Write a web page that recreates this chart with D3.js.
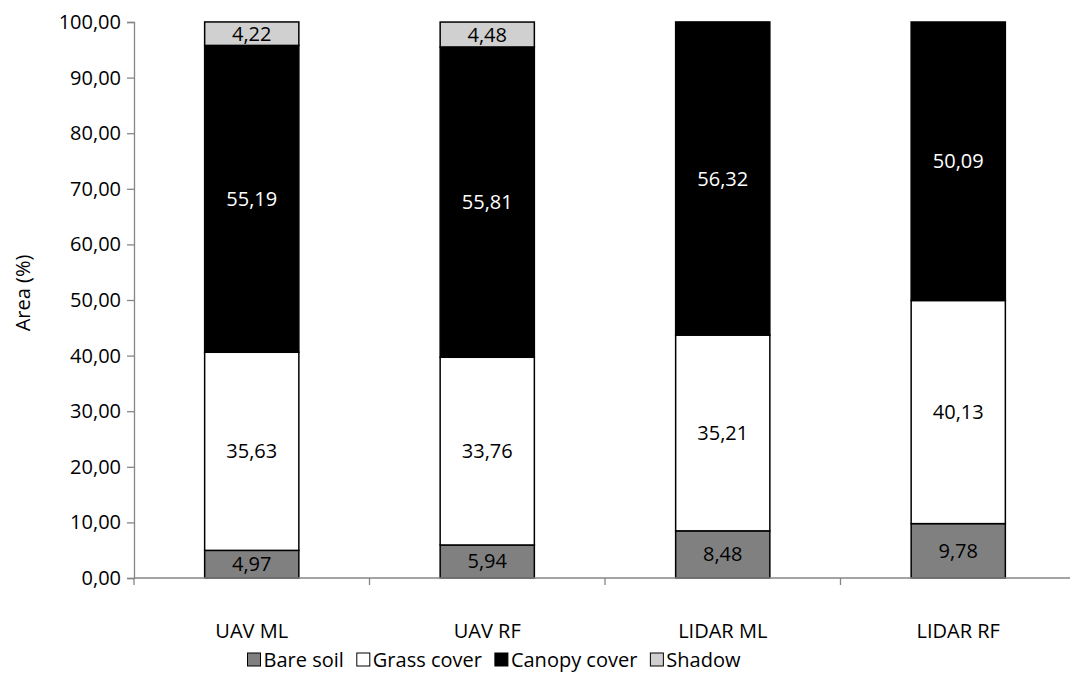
<!DOCTYPE html>
<html>
<head>
<meta charset="utf-8">
<script src="https://cdn.jsdelivr.net/npm/d3@7/dist/d3.min.js"></script>
<style>
  html, body { margin: 0; padding: 0; background: #fff; }
  svg { display: block; font-family: "Open Sans", "Liberation Sans", sans-serif; }
</style>
</head>
<body>
<svg id="chart" width="1070" height="675"></svg>
<script>
// Land cover classes per classification method (area share, %)
const categories = ["UAV ML", "UAV RF", "LIDAR ML", "LIDAR RF"];
const seriesNames = ["Bare soil", "Grass cover", "Canopy cover", "Shadow"];
const bareSoil    = [4.97, 5.94, 8.48, 9.78];
const grassCover  = [35.63, 33.76, 35.21, 40.13];
const canopyCover = [55.19, 55.81, 56.32, 50.09];
const shadow      = [4.22, 4.48, 0, 0];
const yTicks = [0, 10, 20, 30, 40, 50, 60, 70, 80, 90, 100];

const seriesValues = [bareSoil, grassCover, canopyCover, shadow];
const fills = ["#808080", "#ffffff", "#000000", "#d0d0d0"];
const labelColors = ["#000", "#000", "#fff", "#000"];
const fontSize = 20;

const rows = categories.map((c, i) => {
  const r = { category: c };
  seriesNames.forEach((s, k) => { r[s] = seriesValues[k][i]; });
  return r;
});
const stacked = d3.stack().keys(seriesNames)(rows);

const svg = d3.select("#chart");
const plotLeft = 134, plotRight = 1076, plotTop = 22, plotBottom = 578;

const x = d3.scaleBand().domain(categories).range([plotLeft, plotRight]).paddingInner(0.6).paddingOuter(0.3);
const y = d3.scaleLinear().domain([0, 100]).range([plotBottom, plotTop]);
const fmt = v => d3.format(".2f")(v).replace(".", ",");

// Bars
const layers = svg.append("g").selectAll("g").data(stacked).join("g")
  .attr("fill", (d, i) => fills[i]);
layers.selectAll("rect").data(d => d.filter(p => p[1] - p[0] > 0)).join("rect")
  .attr("x", d => x(d.data.category))
  .attr("width", x.bandwidth())
  .attr("y", d => y(d[1]))
  .attr("height", d => y(d[0]) - y(d[1]))
  .attr("stroke", "#000")
  .attr("stroke-width", 1.5);

// Value labels
stacked.forEach((layer, k) => {
  svg.append("g").selectAll("text").data(layer.filter(p => p[1] - p[0] > 0)).join("text")
    .attr("x", d => x(d.data.category) + x.bandwidth() / 2)
    .attr("y", d => y((d[0] + d[1]) / 2))
    .attr("dy", "0.35em")
    .attr("text-anchor", "middle")
    .attr("font-size", fontSize)
    .attr("fill", labelColors[k])
    .text(d => fmt(d[1] - d[0]));
});

// Y axis
const yAxis = svg.append("g").attr("transform", `translate(${plotLeft},0)`)
  .call(d3.axisLeft(y).tickValues(yTicks).tickFormat(fmt).tickSize(7).tickPadding(6));
yAxis.select(".domain").attr("stroke", "#868686").attr("stroke-width", 1.3);
yAxis.selectAll(".tick line").attr("stroke", "#868686").attr("stroke-width", 1.3);
yAxis.selectAll(".tick text").attr("font-size", fontSize).attr("fill", "#000")
  .attr("font-family", "'Open Sans', sans-serif");

// X axis with ticks on category boundaries
const step = x.step();
const xAxisG = svg.append("g");
xAxisG.append("line").attr("x1", plotLeft).attr("x2", plotRight).attr("y1", plotBottom).attr("y2", plotBottom)
  .attr("stroke", "#868686").attr("stroke-width", 1.3);
xAxisG.selectAll("line.b").data(d3.range(categories.length + 1)).join("line")
  .attr("class", "b")
  .attr("x1", i => plotLeft + i * step).attr("x2", i => plotLeft + i * step)
  .attr("y1", plotBottom).attr("y2", plotBottom + 7)
  .attr("stroke", "#868686").attr("stroke-width", 1.3);
xAxisG.selectAll("text").data(categories).join("text")
  .attr("x", d => x(d) + x.bandwidth() / 2)
  .attr("y", 631)
  .attr("dy", "0.35em")
  .attr("text-anchor", "middle")
  .attr("font-size", fontSize)
  .attr("fill", "#000")
  .text(d => d);

// Y axis title
svg.append("text")
  .attr("transform", "translate(23,293) rotate(-90)")
  .attr("text-anchor", "middle")
  .attr("dy", "0.35em")
  .attr("font-size", fontSize)
  .attr("fill", "#000")
  .text("Area (%)");

// Legend: items laid out by measured text width, centred under the plot
const legendCenter = 494, legendY = 660, swatch = 13, swatchGap = 3, itemGap = 13;
const legendG = svg.append("g");
const items = legendG.selectAll("g").data(seriesNames).join("g");
items.append("rect")
  .attr("x", 0).attr("y", -7).attr("width", swatch).attr("height", swatch)
  .attr("fill", (d, i) => fills[i]).attr("stroke", "#000").attr("stroke-width", 1);
items.append("text")
  .attr("x", swatch + swatchGap).attr("dy", "0.35em")
  .attr("font-size", fontSize).attr("fill", "#000")
  .text(d => d);
const widths = [];
items.each(function () { widths.push(swatch + swatchGap + d3.select(this).select("text").node().getComputedTextLength()); });
const total = d3.sum(widths) + itemGap * (widths.length - 1);
let cursor = legendCenter - total / 2;
items.attr("transform", (d, i) => {
  const t = `translate(${cursor},${legendY})`;
  cursor += widths[i] + itemGap;
  return t;
});
</script>
</body>
</html>
